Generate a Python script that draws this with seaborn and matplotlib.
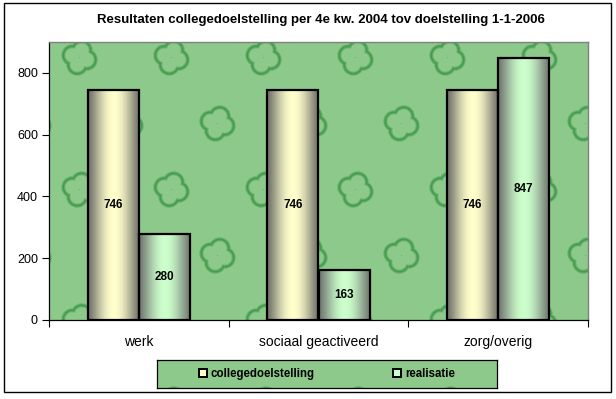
import matplotlib
matplotlib.use('Agg')
import matplotlib.pyplot as plt
import numpy as np
import pandas as pd
import seaborn as sns
from matplotlib.patches import Patch, Rectangle

categories = ['werk', 'sociaal geactiveerd', 'zorg/overig']
series = ['collegedoelstelling', 'realisatie']
doelstelling = [746, 746, 746]
realisatie = [280, 163, 847]
yticks = [0, 200, 400, 600, 800]

df = pd.DataFrame({
    'categorie': categories * 2,
    'reeks': [series[0]] * 3 + [series[1]] * 3,
    'waarde': doelstelling + realisatie,
})

plt.rcParams['font.family'] = ['Liberation Sans', 'DejaVu Sans']

peak = {'collegedoelstelling': np.array([1.0, 1.0, 0.80]),
        'realisatie': np.array([0.80, 1.0, 0.80])}
bg_green = np.array([0.56, 0.79, 0.55])


# achtergrond met klavertjes (alleen decoratie)
def clover_texture(wpx, hpx, dx=0, dy=0):
    yy, xx = np.mgrid[0:hpx, 0:wpx].astype(float)
    sd = np.full((hpx, wpx), np.inf)
    sx, sy = 92, 66
    for row in range(-1, hpx // sy + 2):
        for col in range(-1, wpx // sx + 2):
            cx = col * sx + (sx / 2 if row % 2 else 0) + dx
            cy = row * sy + dy
            for k in range(4):
                a = 0.3 + k * np.pi / 2
                lx, ly = cx + 7.5 * np.cos(a), cy + 7.5 * np.sin(a)
                sd = np.minimum(sd, np.hypot(xx - lx, yy - ly) - 10.5)
    rim = np.clip(1 - np.abs(sd + 1.5) / 2.5, 0, 1) ** 0.8
    rim = rim[..., None] * 0.7
    dark = np.array([0.12, 0.52, 0.18])
    img = np.ones((hpx, wpx, 3)) * bg_green
    return img * (1 - rim) + dark * rim


fig = plt.figure(figsize=(6.16, 3.99), dpi=100)
ax = fig.add_axes([49 / 616, 79 / 399, 539 / 616, 278 / 399])

sns.barplot(data=df, x='categorie', y='waarde', hue='reeks',
            palette=[peak[s] for s in series], width=0.57,
            edgecolor='black', linewidth=1.6, legend=False, ax=ax, zorder=2)

ax.imshow(clover_texture(539, 278, 30, 15), extent=[-0.5, 2.5, 0, 900],
          aspect='auto', zorder=0)

# cilinder-achtige kleurverloop in de staven
t = np.linspace(0, 1, 64)
g = np.sin(np.pi * t) ** 1.3
for s, cont in zip(series, ax.containers):
    edge = np.array([0.45, 0.45, 0.42]) if s == series[0] else np.array([0.45, 0.47, 0.45])
    grad = (edge + (peak[s] - edge) * g[:, None])[None, :, :]
    for p in cont.patches:
        x0, w, h = p.get_x(), p.get_width(), p.get_height()
        ax.imshow(grad, extent=[x0, x0 + w, 0, h], aspect='auto', zorder=1)
        p.set_facecolor('none')
    ax.bar_label(cont, label_type='center', fontweight='bold', fontsize=8.5)

ax.set_xlim(-0.5, 2.5)
ax.set_ylim(0, 900)
ax.set_yticks(yticks)
ax.set_xticks(range(len(categories)))
ax.set_xticklabels(categories)
ax.set_xticks([-0.5, 0.5, 1.5, 2.5], minor=True)
ax.tick_params(axis='x', which='major', length=0, pad=11, labelsize=10)
ax.tick_params(axis='x', which='minor', length=5, direction='out', width=0.8)
ax.tick_params(axis='y', length=5, direction='out', width=0.8, pad=3, labelsize=9)
ax.set_xlabel('')
ax.set_ylabel('')
for side in ['left', 'bottom']:
    ax.spines[side].set_color('black')
    ax.spines[side].set_linewidth(0.9)
for side in ['top', 'right']:
    ax.spines[side].set_color('#808080')
    ax.spines[side].set_linewidth(1.0)

fig.text(321 / 616, 0.95, 'Resultaten collegedoelstelling per 4e kw. 2004 tov doelstelling 1-1-2006',
         ha='center', va='center', fontsize=9.5, fontweight='bold',
         family=['Liberation Sans Narrow', 'Liberation Sans', 'DejaVu Sans'])

# legenda met eigen achtergrond
lax = fig.add_axes([157 / 616, 11 / 399, 340 / 616, 28 / 399])
lax.imshow(clover_texture(340, 28, 60, -22), aspect='auto')
lax.set_xticks([])
lax.set_yticks([])
for sp in lax.spines.values():
    sp.set_color('black')
    sp.set_linewidth(0.9)
handles = [Patch(facecolor=peak[s], edgecolor='black', linewidth=1.4) for s in series]
lax.legend(handles, series, loc='center', ncol=2, frameon=False,
           prop={'weight': 'bold', 'size': 8.3}, handlelength=0.7,
           handleheight=0.7, handletextpad=0.35, columnspacing=6.8)

fig.patches.append(Rectangle((4 / 616, 7 / 399), 607 / 616, 389 / 399,
                             transform=fig.transFigure, fill=False,
                             edgecolor='black', linewidth=1.0))

fig.savefig('out.png', dpi=100)
